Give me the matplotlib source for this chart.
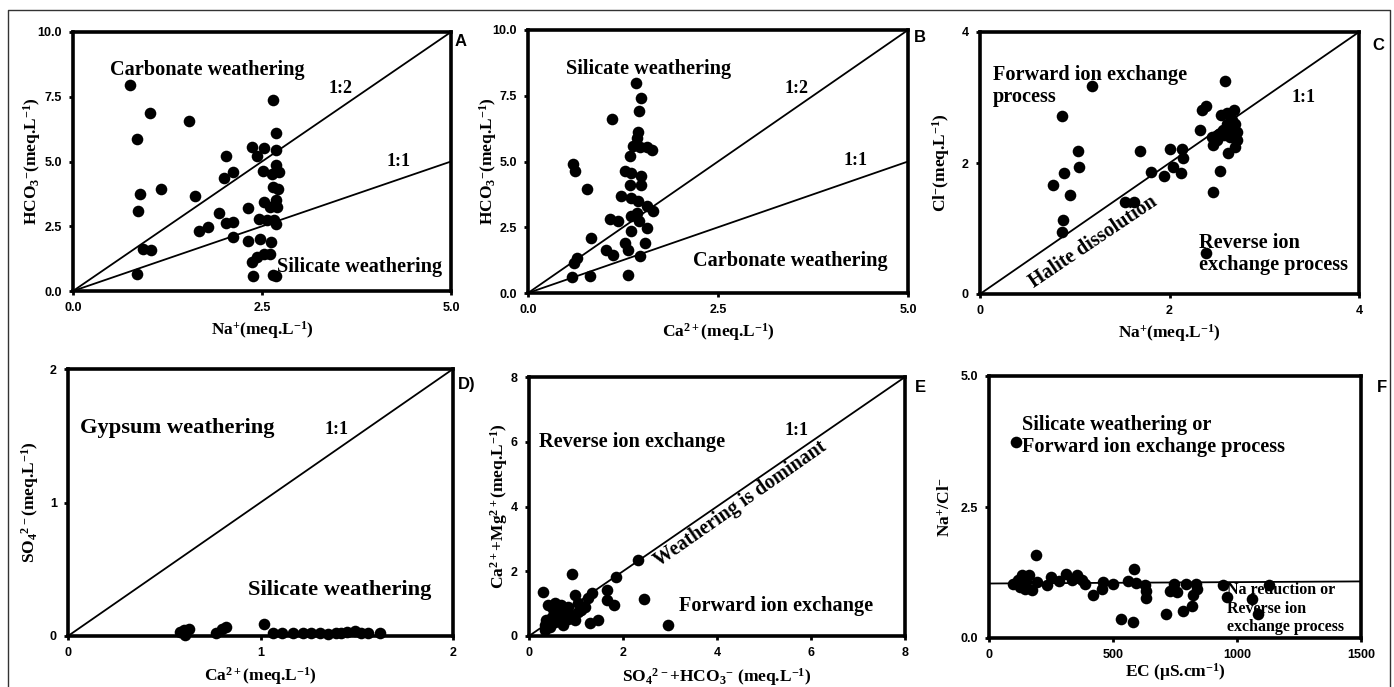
import matplotlib
matplotlib.use("Agg")
import matplotlib.pyplot as plt
from matplotlib.lines import Line2D

plt.rcParams["font.family"] = ["Liberation Serif", "DejaVu Serif"]
plt.rcParams["mathtext.fontset"] = "custom"
plt.rcParams["mathtext.rm"] = "Liberation Serif:bold"
plt.rcParams["mathtext.it"] = "Liberation Serif:bold"
plt.rcParams["mathtext.bf"] = "Liberation Serif:bold"
plt.rcParams["mathtext.default"] = "regular"

# Panel A: Na+ vs HCO3-
a_na = [0.76, 1.02, 0.85, 1.53, 2.65, 2.69, 0.88, 0.86, 1.16, 1.62, 0.93, 1.03, 0.85,
        1.67, 1.79, 1.93, 2.03, 2.00, 2.12, 2.03, 2.12, 2.11, 2.32, 2.32, 2.47, 2.46,
        2.37, 2.44, 2.53, 2.51, 2.52, 2.37, 2.44, 2.52, 2.60, 2.38, 2.62, 2.64, 2.68,
        2.68, 2.68, 2.72, 2.63, 2.65, 2.71, 2.68, 2.61, 2.70, 2.56, 2.66, 2.68]
a_hco3 = [7.97, 6.89, 5.86, 6.57, 7.38, 6.11, 3.74, 3.07, 3.92, 3.65, 1.61, 1.58, 0.66,
          2.31, 2.48, 3.00, 5.21, 4.38, 4.60, 2.62, 2.66, 2.07, 3.21, 1.92, 1.99, 2.79,
          5.57, 5.21, 5.51, 4.64, 3.44, 1.11, 1.32, 1.43, 1.43, 0.58, 1.89, 0.60, 0.58,
          5.46, 4.86, 4.59, 4.51, 4.02, 3.92, 3.51, 3.25, 3.23, 2.76, 2.74, 2.58]

# Panel B: Ca2+ vs HCO3-
b_ca = [1.42, 1.49, 1.46, 1.11, 1.45, 1.44, 1.38, 1.47, 1.57, 1.63, 1.34, 0.59, 0.62,
        1.27, 1.36, 1.49, 1.34, 1.49, 0.78, 1.22, 1.36, 1.45, 1.56, 1.64, 1.43, 1.36,
        1.08, 1.19, 1.46, 1.56, 1.36, 0.83, 1.27, 1.54, 1.03, 1.12, 1.32, 1.47, 0.64,
        0.61, 0.58, 0.81, 1.32]
b_hco3 = [7.99, 7.41, 6.92, 6.61, 6.11, 5.89, 5.59, 5.57, 5.54, 5.44, 5.22, 4.90, 4.62,
          4.62, 4.56, 4.43, 4.11, 4.11, 3.95, 3.70, 3.61, 3.48, 3.29, 3.10, 3.04, 2.91,
          2.82, 2.72, 2.72, 2.49, 2.34, 2.11, 1.90, 1.92, 1.65, 1.46, 1.65, 1.42, 1.33,
          1.14, 0.61, 0.63, 0.67]

# Panel C: Na+ vs Cl-
c_na = [2.59, 1.18, 0.87, 2.34, 2.39, 2.32, 1.03, 1.69, 2.00, 2.13, 2.14, 1.04, 0.89,
        1.80, 1.94, 2.04, 2.12, 0.77, 0.95, 1.53, 1.63, 0.88, 0.87, 2.38, 2.46, 2.53,
        2.45, 2.46, 2.52, 2.54, 2.61, 2.68, 2.56, 2.62, 2.69, 2.71, 2.64, 2.71, 2.69,
        2.62, 2.57, 2.66, 2.61, 2.50]
c_cl = [3.25, 3.18, 2.72, 2.81, 2.87, 2.51, 2.19, 2.19, 2.21, 2.21, 2.07, 1.94, 1.85,
        1.87, 1.80, 1.94, 1.84, 1.66, 1.51, 1.41, 1.41, 1.13, 0.94, 0.63, 1.56, 1.88,
        2.40, 2.27, 2.45, 2.73, 2.76, 2.81, 2.50, 2.53, 2.60, 2.47, 2.40, 2.35, 2.25,
        2.15, 2.43, 2.65, 2.60, 2.35]

# Panel D: Ca2+ vs SO4 2-
d_ca = [0.58, 0.60, 0.63, 0.61, 0.77, 0.80, 0.82, 1.02, 1.065, 1.11, 1.17, 1.22, 1.26,
        1.31, 1.35, 1.39, 1.42, 1.45, 1.49, 1.52, 1.56, 1.62]
d_so4 = [0.03, 0.045, 0.05, 0.01, 0.025, 0.05, 0.065, 0.09, 0.02, 0.02, 0.02, 0.02, 0.02,
         0.02, 0.015, 0.02, 0.025, 0.03, 0.04, 0.025, 0.02, 0.02]

# Panel E: SO4+HCO3 vs Ca+Mg
e_so4hco3 = [2.31, 1.86, 2.44, 2.95, 0.92, 0.30, 1.65, 1.67, 1.81, 1.33, 1.26, 0.97, 1.04,
             1.47, 1.29, 1.19, 0.40, 0.55, 0.69, 0.83, 0.76, 0.62, 0.48, 0.37, 0.33, 0.44,
             0.55, 0.72, 0.90, 1.04, 0.83, 0.67, 1.11, 0.33, 0.51, 0.97]
e_camg = [2.34, 1.81, 1.13, 0.34, 1.91, 1.37, 1.42, 1.11, 0.96, 1.32, 1.16, 1.26, 1.01,
          0.49, 0.39, 0.90, 0.96, 1.01, 0.96, 0.90, 0.75, 0.70, 0.60, 0.49, 0.34, 0.29,
          0.44, 0.34, 0.65, 0.75, 0.54, 0.49, 0.80, 0.19, 0.82, 0.49]

# Panel F: EC vs Na+/Cl-
f_ec = [108, 191, 584, 97, 117, 135, 161, 144, 175, 151, 124, 194, 232, 252, 283, 310,
        333, 353, 373, 386, 420, 454, 458, 501, 534, 581, 561, 594, 628, 632, 635, 714,
        746, 730, 759, 781, 794, 817, 824, 835, 837, 945, 958, 1060, 1083, 1130]
f_ratio = [3.75, 1.58, 1.32, 1.04, 1.11, 1.20, 1.20, 0.94, 0.91, 1.07, 0.97, 1.07, 1.01,
           1.17, 1.09, 1.23, 1.11, 1.20, 1.11, 1.03, 0.82, 0.94, 1.06, 1.04, 0.37, 0.31,
           1.09, 1.05, 1.01, 0.90, 0.76, 0.46, 1.04, 0.90, 0.88, 0.52, 1.03, 0.62, 0.82,
           1.04, 0.94, 1.01, 0.78, 0.75, 0.45, 1.01]
f_line_x = [0, 1500]
f_line_y = [1.04, 1.08]

W, H = 1394, 687
fig = plt.figure(figsize=(W / 100, H / 100), dpi=100)

# outer frame (open at the bottom)
fig.add_artist(Line2D([8 / W, 8 / W, 1390 / W, 1390 / W], [0, 1 - 10 / H, 1 - 10 / H, 0],
                      transform=fig.transFigure, color="#333333", lw=1.0))


def make_ax(l, r, t, b):
    ax = fig.add_axes([l / W, 1 - b / H, (r - l) / W, (b - t) / H])
    ax._px = (l, r, t, b)
    for s in ax.spines.values():
        s.set_linewidth(2.6)
    ax.tick_params(direction="out", length=3, width=2, pad=5)
    return ax


def style_ticks(ax, xt, yt, xl, yl):
    ax.set_xticks(xt)
    ax.set_yticks(yt)
    ax.set_xticklabels(xl, fontfamily="Liberation Sans", fontweight="bold", fontsize=9)
    ax.set_yticklabels(yl, fontfamily="Liberation Sans", fontweight="bold", fontsize=9)


def labels(ax, xl, yl, xoff, yoff):
    # xoff: px below the axes for x label centre, yoff: px left of axes for y label centre
    l, r, t, b = ax._px
    ax.set_xlabel(xl, fontsize=12.5, fontweight="bold", va="center")
    ax.set_ylabel(yl, fontsize=12.5, fontweight="bold", va="center")
    ax.xaxis.set_label_coords(0.5, -xoff / (b - t))
    ax.yaxis.set_label_coords(-yoff / (r - l), 0.5)


def dots(ax, x, y):
    ax.scatter(x, y, s=70, color="black", zorder=3, clip_on=False, linewidths=0)


def note(ax, x, y, txt, size=14.6, **kw):
    ax.text(x, y, txt, fontsize=size, fontweight="bold", va="center", ha="left", **kw)


def panel_letter(px, py, letter):
    fig.text(px / W, 1 - py / H, letter, fontfamily="Liberation Sans", fontweight="bold",
             fontsize=12, ha="center", va="center")


lw = 1.3

# A
ax = make_ax(73, 451, 32, 291)
ax.plot([0, 5], [0, 10], color="black", lw=lw)
ax.plot([0, 5], [0, 5], color="black", lw=lw)
dots(ax, a_na, a_hco3)
ax.set_xlim(0, 5)
ax.set_ylim(0, 10)
style_ticks(ax, [0, 2.5, 5], [0, 2.5, 5, 7.5, 10], ["0.0", "2.5", "5.0"],
            ["0.0", "2.5", "5.0", "7.5", "10.0"])
labels(ax, r"Na$^{+}$(meq.L$^{-1}$)", r"HCO$_3$$^{-}$(meq.L$^{-1}$)", 39, 41)
note(ax, 0.49, 8.52, "Carbonate weathering")
note(ax, 3.38, 7.8, "1:2", 13)
note(ax, 4.15, 4.99, "1:1", 13)
note(ax, 2.70, 0.94, "Silicate weathering")
panel_letter(461, 42, "A")

# B
ax = make_ax(528, 908, 30, 293)
ax.plot([0, 5], [0, 10], color="black", lw=lw)
ax.plot([0, 5], [0, 5], color="black", lw=lw)
dots(ax, b_ca, b_hco3)
ax.set_xlim(0, 5)
ax.set_ylim(0, 10)
style_ticks(ax, [0, 2.5, 5], [0, 2.5, 5, 7.5, 10], ["0.0", "2.5", "5.0"],
            ["0.0", "2.5", "5.0", "7.5", "10.0"])
labels(ax, r"Ca$^{2+}$(meq.L$^{-1}$)", r"HCO$_3$$^{-}$(meq.L$^{-1}$)", 39, 40)
note(ax, 0.505, 8.52, "Silicate weathering")
note(ax, 3.38, 7.78, "1:2", 13)
note(ax, 4.15, 5.03, "1:1", 13)
note(ax, 2.17, 1.2, "Carbonate weathering")
panel_letter(920, 38, "B")

# C
ax = make_ax(980, 1359, 32, 294)
ax.plot([0, 4], [0, 4], color="black", lw=lw)
dots(ax, c_na, c_cl)
ax.set_xlim(0, 4)
ax.set_ylim(0, 4)
style_ticks(ax, [0, 2, 4], [0, 2, 4], ["0", "2", "4"], ["0", "2", "4"])
labels(ax, r"Na$^{+}$(meq.L$^{-1}$)", r"Cl$^{-}$(meq.L$^{-1}$)", 39, 39)
ax.text(0.14, 3.17, "Forward ion exchange\nprocess", fontsize=14.6, fontweight="bold",
        va="center", ha="left", linespacing=1.15)
note(ax, 3.29, 3.0, "1:1", 13)
ax.text(1.20, 0.80, "Halite dissolution", fontsize=14.4, fontweight="bold", rotation=34,
        rotation_mode="anchor", ha="center", va="center")
ax.text(2.31, 0.61, "Reverse ion\nexchange process", fontsize=14.6, fontweight="bold",
        va="center", ha="left", linespacing=1.15)
panel_letter(1378, 45, "C")

# D
ax = make_ax(68, 453, 369, 636)
ax.plot([0, 2], [0, 2], color="black", lw=lw)
dots(ax, d_ca, d_so4)
ax.set_xlim(0, 2)
ax.set_ylim(0, 2)
style_ticks(ax, [0, 1, 2], [0, 1, 2], ["0", "1", "2"], ["0", "1", "2"])
labels(ax, r"Ca$^{2+}$(meq.L$^{-1}$)", r"SO$_4$$^{2-}$(meq.L$^{-1}$)", 40, 38)
note(ax, 0.06, 1.56, "Gypsum weathering", 16.2)
note(ax, 1.33, 1.545, "1:1", 13)
note(ax, 0.935, 0.345, "Silicate weathering", 16.2)
panel_letter(467, 385, "D)")

# E
ax = make_ax(529, 905, 377, 636)
ax.plot([0, 8], [0, 8], color="black", lw=lw)
dots(ax, e_so4hco3, e_camg)
ax.set_xlim(0, 8)
ax.set_ylim(0, 8)
style_ticks(ax, [0, 2, 4, 6, 8], [0, 2, 4, 6, 8], ["0", "2", "4", "6", "8"],
            ["0", "2", "4", "6", "8"])
labels(ax, r"SO$_4$$^{2-}$+HCO$_3$$^{-}$ (meq.L$^{-1}$)", r"Ca$^{2+}$+Mg$^{2+}$(meq.L$^{-1}$)",
       41, 30)
note(ax, 0.21, 6.0, "Reverse ion exchange")
note(ax, 5.43, 6.35, "1:1", 13)
ax.text(4.49, 4.09, "Weathering is dominant", fontsize=14.4, fontweight="bold", rotation=35,
        rotation_mode="anchor", ha="center", va="center")
note(ax, 3.19, 0.94, "Forward ion exchange")
panel_letter(920, 387, "E")

# F
ax = make_ax(989, 1361, 376, 638)
ax.plot(f_line_x, f_line_y, color="black", lw=lw)
dots(ax, f_ec, f_ratio)
ax.set_xlim(0, 1500)
ax.set_ylim(0, 5)
style_ticks(ax, [0, 500, 1000, 1500], [0, 2.5, 5], ["0", "500", "1000", "1500"],
            ["0.0", "2.5", "5.0"])
labels(ax, r"EC ($\mu$S.cm$^{-1}$)", r"Na$^{+}$/Cl$^{-}$", 34, 43)
ax.text(135, 3.86, "Silicate weathering or\nForward ion exchange process", fontsize=14.6,
        fontweight="bold", va="center", ha="left", linespacing=1.15)
ax.text(959, 0.56, "Na reduction or\nReverse ion\nexchange process", fontsize=11.5,
        fontweight="bold", va="center", ha="left", linespacing=1.2)
panel_letter(1382, 387, "F")

fig.savefig("out.png", dpi=100)
